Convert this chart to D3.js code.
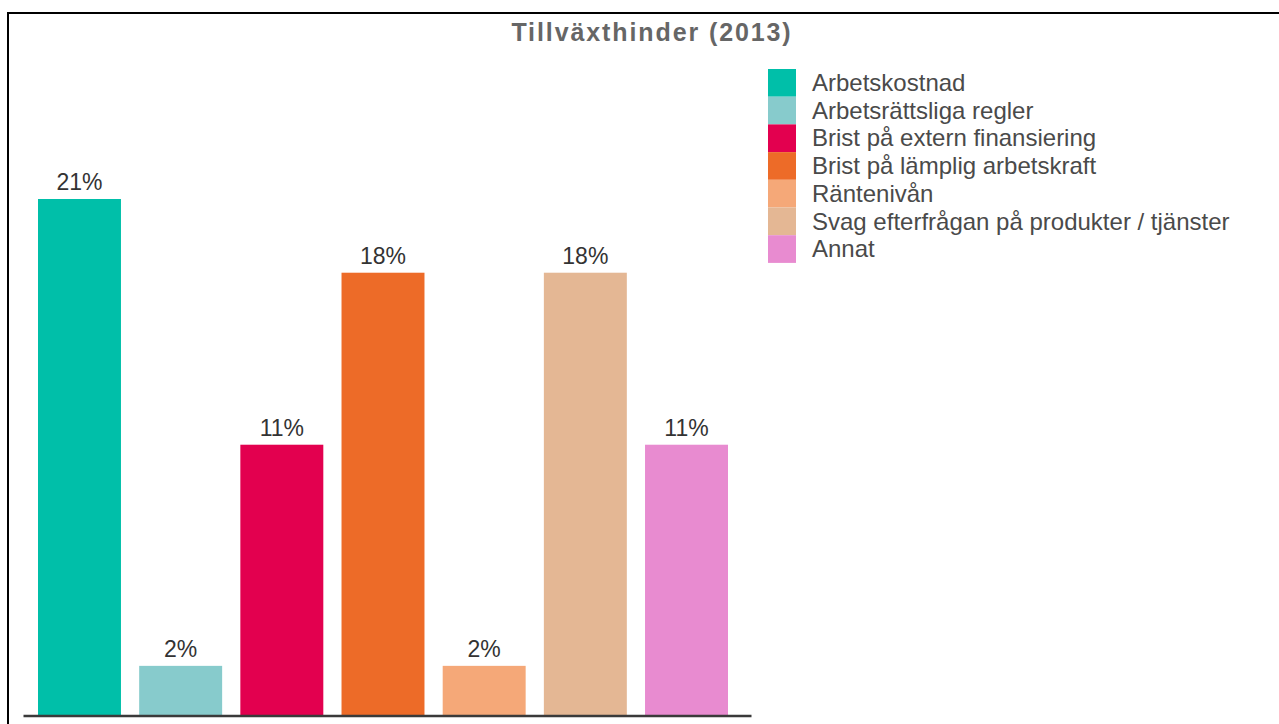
<!DOCTYPE html>
<html>
<head>
<meta charset="utf-8">
<script src="https://cdn.jsdelivr.net/npm/d3@7"></script>
<style>
  html, body { margin: 0; padding: 0; background: #fff; overflow: hidden; }
  svg { display: block; font-family: "Liberation Sans", Arial, Helvetica, sans-serif; }
</style>
</head>
<body>
<svg id="chart" width="1279" height="724"></svg>
<script>
const title = "Tillväxthinder (2013)";
const categories = [
  "Arbetskostnad",
  "Arbetsrättsliga regler",
  "Brist på extern finansiering",
  "Brist på lämplig arbetskraft",
  "Räntenivån",
  "Svag efterfrågan på produkter / tjänster",
  "Annat"
];
const values = [21, 2, 11, 18, 2, 18, 11];
const colors = ["#00BFA9", "#87CBCC", "#E3004F", "#ED6B28", "#F5A878", "#E4B794", "#E88BD0"];

const svg = d3.select("#chart");

// frame
svg.append("rect")
  .attr("x", 8).attr("y", 13)
  .attr("width", 1300).attr("height", 740)
  .attr("fill", "#fff")
  .attr("stroke", "#000")
  .attr("stroke-width", 2);

const x = d3.scaleBand()
  .domain(categories)
  .range([28.9, 737.1])
  .paddingInner(0.18)
  .paddingOuter(0.09);

const y = d3.scaleLinear()
  .domain([0, 21])
  .range([715, 199]);

// title
svg.append("text")
  .attr("x", 652)
  .attr("y", 40.5)
  .attr("text-anchor", "middle")
  .attr("font-size", 25)
  .attr("font-weight", "bold")
  .attr("letter-spacing", 1.9)
  .attr("fill", "#666")
  .text(title);

// bars
svg.append("g").selectAll("rect")
  .data(categories)
  .join("rect")
  .attr("x", d => x(d))
  .attr("width", x.bandwidth())
  .attr("y", (d, i) => y(values[i]))
  .attr("height", (d, i) => y(0) - y(values[i]))
  .attr("fill", (d, i) => colors[i]);

// value labels
svg.append("g").selectAll("text")
  .data(categories)
  .join("text")
  .attr("x", d => x(d) + x.bandwidth() / 2)
  .attr("y", (d, i) => y(values[i]) - 9)
  .attr("text-anchor", "middle")
  .attr("font-size", 23)
  .attr("fill", "#333")
  .text((d, i) => values[i] + "%");

// baseline axis
const axis = d3.axisBottom(d3.scaleLinear().range([23, 751])).ticks(0).tickSize(0).tickFormat("");
const ag = svg.append("g").attr("transform", "translate(0,715.5)").call(axis);
ag.select(".domain").attr("stroke", "#3a3a3a").attr("stroke-width", 2.5);

// legend
const leg = svg.append("g").attr("transform", "translate(768,69)");
const rowH = 27.7;
const items = leg.selectAll("g")
  .data(categories)
  .join("g")
  .attr("transform", (d, i) => `translate(0,${i * rowH})`);
items.append("rect")
  .attr("width", 28)
  .attr("height", rowH)
  .attr("fill", (d, i) => colors[i]);
items.append("text")
  .attr("x", 44)
  .attr("y", 22)
  .attr("font-size", 24)
  .attr("fill", "#4a4a4a")
  .text(d => d);
</script>
</body>
</html>
